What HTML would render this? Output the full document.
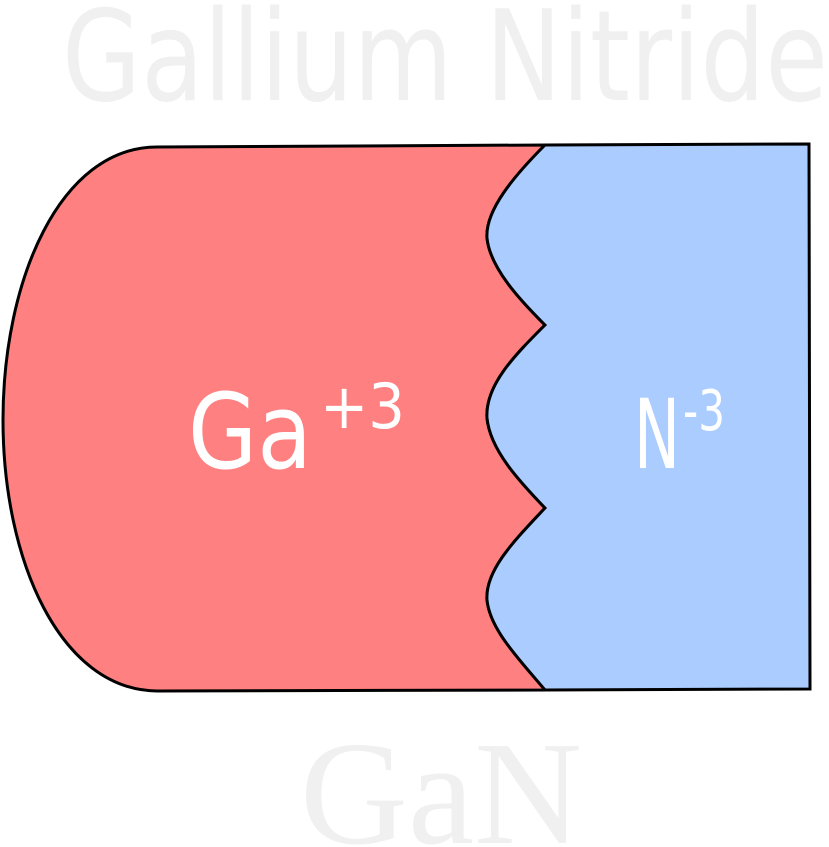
<!DOCTYPE html>
<html><head><meta charset="utf-8"><style>html,body{margin:0;padding:0;background:#fff}svg{display:block}</style></head>
<body>
<svg width="829" height="847" viewBox="0 0 829 847">
<text x="62" y="100" font-family="DejaVu Sans, Liberation Sans, sans-serif" font-size="126" fill="#f0f0f0" textLength="766" lengthAdjust="spacingAndGlyphs">Gallium Nitride</text>
<path d="M157,147 L545,145 C515,175 485,210 487,238 C490,268 520,300 545,325 C515,355 485,385 487,418 C490,450 520,482 545,508 C515,540 485,570 487,600 C490,630 520,660 545,690 L157,691 C60,690 3,560 3,420 C3,280 60,147 157,147 Z" fill="#ff8080" stroke="#000" stroke-width="3"/>
<path d="M545,145 L809,144 L810,689 L545,690 C520,660 490,630 487,600 C485,570 515,540 545,508 C520,482 490,450 487,418 C485,385 515,355 545,325 C520,300 490,268 487,238 C485,210 515,175 545,145 Z" fill="#aaccff" stroke="#000" stroke-width="3"/>
<text x="188" y="468" font-family="DejaVu Sans, Liberation Sans, sans-serif" font-size="104" fill="#fff" textLength="124" lengthAdjust="spacingAndGlyphs">Ga</text>
<text x="320" y="428" font-family="DejaVu Sans, Liberation Sans, sans-serif" font-size="62" fill="#fff" textLength="85" lengthAdjust="spacingAndGlyphs">+3</text>
<text x="634" y="468" font-family="DejaVu Sans Condensed, DejaVu Sans, sans-serif" font-size="96" fill="#fff" textLength="46" lengthAdjust="spacingAndGlyphs">N</text>
<text x="683" y="430" font-family="DejaVu Sans Condensed, DejaVu Sans, sans-serif" font-size="56" fill="#fff" textLength="42" lengthAdjust="spacingAndGlyphs">-3</text>
<text x="300" y="843" font-family="Liberation Serif, DejaVu Serif, serif" font-size="148" fill="#f0f0f0" textLength="282" lengthAdjust="spacingAndGlyphs">GaN</text>
</svg>
</body></html>
